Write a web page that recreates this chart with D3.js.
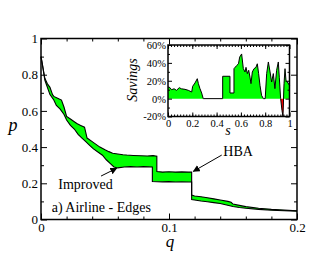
<!DOCTYPE html>
<html>
<head>
<meta charset="utf-8">
<script src="https://cdn.jsdelivr.net/npm/d3@7"></script>
<style>
  body { margin: 0; background: #fff; }
</style>
</head>
<body>
<div id="viz"></div>
<script>
// main panel: HBA (upper curve) and Improved (lower curve), p vs q
var q_hba = [0, 0.001, 0.003, 0.005, 0.007, 0.009, 0.010, 0.013, 0.016, 0.018,
             0.020, 0.023, 0.026, 0.028, 0.031, 0.034, 0.036, 0.040, 0.043, 0.046,
             0.050, 0.053, 0.056, 0.060, 0.064, 0.067, 0.072, 0.078, 0.083, 0.0875,
             0.0905, 0.0905, 0.095, 0.100, 0.105, 0.110, 0.115, 0.1177, 0.1177, 0.120,
             0.125, 0.130, 0.135, 0.140, 0.146, 0.1485, 0.150, 0.155, 0.160, 0.170,
             0.180, 0.190, 0.200];
var p_hba = [0.90, 0.86, 0.78, 0.75, 0.73, 0.69, 0.68, 0.67, 0.66, 0.62,
             0.57, 0.555, 0.54, 0.53, 0.52, 0.51, 0.45, 0.43, 0.415, 0.40,
             0.385, 0.375, 0.366, 0.362, 0.358, 0.356, 0.354, 0.352, 0.351, 0.353,
             0.35, 0.265, 0.262, 0.264, 0.262, 0.263, 0.262, 0.262, 0.135, 0.13,
             0.126, 0.12, 0.114, 0.108, 0.100, 0.095, 0.085, 0.078, 0.071, 0.062,
             0.056, 0.052, 0.048];

var q_imp = [0, 0.001, 0.003, 0.004, 0.007, 0.010, 0.012, 0.015, 0.018, 0.020,
             0.023, 0.026, 0.029, 0.032, 0.035, 0.038, 0.041, 0.045, 0.048, 0.051,
             0.054, 0.057, 0.060, 0.065, 0.070, 0.075, 0.080, 0.087, 0.087, 0.095,
             0.100, 0.105, 0.110, 0.115, 0.1177, 0.1177, 0.120, 0.125, 0.130, 0.135,
             0.140, 0.145, 0.150, 0.155, 0.160, 0.170, 0.180, 0.190, 0.200];
var p_imp = [0.90, 0.86, 0.77, 0.75, 0.69, 0.66, 0.63, 0.61, 0.58, 0.55,
             0.52, 0.50, 0.47, 0.45, 0.43, 0.41, 0.39, 0.37, 0.355, 0.33,
             0.31, 0.29, 0.285, 0.29, 0.292, 0.29, 0.292, 0.29, 0.21, 0.208,
             0.209, 0.207, 0.208, 0.207, 0.207, 0.11, 0.108, 0.102, 0.098, 0.093,
             0.088, 0.08, 0.072, 0.066, 0.062, 0.056, 0.051, 0.048, 0.046];

// inset: savings (%) vs s
var s_ins = [0, 0.01, 0.03, 0.05, 0.07, 0.093, 0.11, 0.14, 0.167, 0.195,
             0.203, 0.222, 0.241, 0.25, 0.263, 0.277, 0.29, 0.45, 0.45, 0.51,
             0.51, 0.543, 0.543, 0.565, 0.58, 0.59, 0.606, 0.62, 0.634, 0.642,
             0.653, 0.664, 0.675, 0.683, 0.694, 0.708, 0.724, 0.735, 0.746, 0.757,
             0.77, 0.785, 0.8, 0.812, 0.826, 0.84, 0.853, 0.867, 0.88, 0.894,
             0.908, 0.916, 0.927, 0.938, 0.946, 0.955, 0.963, 0.971, 0.982, 1.0];
var sav_ins = [13, 13, 10, 11, 9.3, 12.3, 11, 10.4, 9.3, 7.4,
               13.8, 17.5, 22.3, 16.8, 11.2, 6.3, 0, 0, 25, 25,
               6.3, 6.3, 33.5, 37, 39, 46.5, 50, 33.5, 29.8, 35,
               28, 31.7, 24, 16.8, 29.8, 33.5, 35, 39, 28, 14.9,
               3.7, 0, 0, 28, 41, 29.8, 18.6, 28, 11.2, 31.7,
               41, 24, 0, -13, -20, 16.8, 33.5, 20.5, 18.6, 14.9];

var qTicks = [0, 0.1, 0.2],
    pTicks = [0, 0.2, 0.4, 0.6, 0.8, 1],
    sTicks = [0, 0.2, 0.4, 0.6, 0.8, 1],
    savTicks = [-20, 0, 20, 40, 60];

var W = 335, H = 259,
    serif = "'Liberation Serif'",
    green = "#00ff00",
    red = "#ff0000";

var svg = d3.select("#viz").append("svg")
    .attr("width", W)
    .attr("height", H);

/***************** scales *********************/
var x = d3.scaleLinear().domain([0, 0.2]).range([41, 297]);
var y = d3.scaleLinear().domain([0, 1]).range([219.5, 38.5]);

var ix = d3.scaleLinear().domain([0, 1]).range([168, 289.5]);
var iy = d3.scaleLinear().domain([-20, 60]).range([116.5, 45]);

// draws inward ticks on all four sides plus the frame
function frame(g, xs, ys, o) {
  var xr = xs.range(), yr = ys.range();
  var sides = [
    { axis: d3.axisBottom, sc: xs, tr: "translate(0," + yr[0] + ")", major: o.xMajor, minor: o.xMinor, fmt: o.xFmt, pad: o.xPad },
    { axis: d3.axisTop, sc: xs, tr: "translate(0," + yr[1] + ")", major: o.xMajor, minor: o.xMinor, fmt: null },
    { axis: d3.axisLeft, sc: ys, tr: "translate(" + xr[0] + ",0)", major: o.yMajor, minor: o.yMinor, fmt: o.yFmt, pad: o.yPad },
    { axis: d3.axisRight, sc: ys, tr: "translate(" + xr[1] + ",0)", major: o.yMajor, minor: o.yMinor, fmt: null }
  ];
  sides.forEach(function(sd) {
    var a = g.append("g").attr("transform", sd.tr)
        .call(sd.axis(sd.sc).tickValues(sd.minor).tickSize(-o.minorLen).tickFormat(""));
    a.select(".domain").remove();
    var b = g.append("g").attr("transform", sd.tr)
        .call(sd.axis(sd.sc).tickValues(sd.major).tickSize(-o.majorLen)
              .tickPadding(sd.pad || 0)
              .tickFormat(sd.fmt ? sd.fmt : ""));
    b.select(".domain").remove();
    b.selectAll(".tick text").style("font-size", o.fontSize + "px");
  });
  g.selectAll(".tick line").attr("stroke", "#000").attr("stroke-width", 1);
  g.selectAll(".tick text").attr("fill", "#000");
  g.append("rect")
      .attr("x", xr[0]).attr("y", yr[1])
      .attr("width", xr[1] - xr[0]).attr("height", yr[0] - yr[1])
      .attr("fill", "none").attr("stroke", "#000").attr("stroke-width", 1.5);
}

/***************** main panel *********************/
var main = svg.append("g").attr("class", "main");

var hba = q_hba.map(function(q, i) { return [q, p_hba[i]]; });
var imp = q_imp.map(function(q, i) { return [q, p_imp[i]]; });

var line = d3.line()
    .x(function(d) { return x(d[0]); })
    .y(function(d) { return y(d[1]); });

main.append("path")
    .attr("d", line(hba.concat(imp.slice().reverse())) + "Z")
    .attr("fill", green)
    .attr("stroke", "none");

[hba, imp].forEach(function(c) {
  main.append("path")
      .attr("d", line(c))
      .attr("fill", "none")
      .attr("stroke", "#000")
      .attr("stroke-width", 1.1);
});

var fmt = function(d) { return d3.format("~g")(d); };

frame(main, x, y, {
  xMajor: qTicks, xMinor: d3.range(0.02, 0.2, 0.02),
  yMajor: pTicks, yMinor: d3.range(0.1, 1, 0.2),
  xFmt: fmt, yFmt: fmt, xPad: 3, yPad: 3,
  majorLen: 6, minorLen: 3, fontSize: 13
});

main.append("text")
    .attr("x", 170).attr("y", 247)
    .attr("text-anchor", "middle")
    .style("font-style", "italic").style("font-size", "17px")
    .text("q");

main.append("text")
    .attr("x", 13).attr("y", 131)
    .attr("text-anchor", "middle")
    .style("font-style", "italic").style("font-size", "18px")
    .text("p");

// annotations
var defs = svg.append("defs");
defs.append("marker")
    .attr("id", "arr")
    .attr("viewBox", "0 0 10 10")
    .attr("refX", 9).attr("refY", 5)
    .attr("markerWidth", 7).attr("markerHeight", 7)
    .attr("markerUnits", "userSpaceOnUse")
    .attr("orient", "auto")
  .append("path")
    .attr("d", "M0,0L10,5L0,10Z")
    .attr("fill", "#000");

var notes = [
  { text: "Improved", tx: 0.0135, ty: 0.168, from: [0.0469, 0.240], to: [0.0591, 0.283] },
  { text: "HBA", tx: 0.1424, ty: 0.351, from: [0.1412, 0.356], to: [0.119, 0.266] }
];
notes.forEach(function(n) {
  main.append("text")
      .attr("x", x(n.tx)).attr("y", y(n.ty))
      .style("font-size", "14px")
      .text(n.text);
  main.append("line")
      .attr("x1", x(n.from[0])).attr("y1", y(n.from[1]))
      .attr("x2", x(n.to[0])).attr("y2", y(n.to[1]))
      .attr("stroke", "#000").attr("stroke-width", 1)
      .attr("marker-end", "url(#arr)");
});

main.append("text")
    .attr("x", x(0.0084)).attr("y", y(0.041))
    .style("font-size", "14px")
    .text("a) Airline - Edges");

/***************** inset *********************/
var inset = svg.append("g").attr("class", "inset");
var ins = s_ins.map(function(s, i) { return [s, sav_ins[i]]; });

inset.append("rect")
    .attr("x", ix(0)).attr("y", iy(60))
    .attr("width", ix(1) - ix(0)).attr("height", iy(-20) - iy(60))
    .attr("fill", "#fff");

inset.append("path")
    .attr("d", d3.area()
        .x(function(d) { return ix(d[0]); })
        .y0(iy(0))
        .y1(function(d) { return iy(Math.max(d[1], 0)); })(ins))
    .attr("fill", green);

inset.append("path")
    .attr("d", d3.area()
        .x(function(d) { return ix(d[0]); })
        .y0(iy(0))
        .y1(function(d) { return iy(Math.min(d[1], 0)); })(ins))
    .attr("fill", red);

inset.append("path")
    .attr("d", d3.line()
        .x(function(d) { return ix(d[0]); })
        .y(function(d) { return iy(d[1]); })(ins))
    .attr("fill", "none")
    .attr("stroke", "#000")
    .attr("stroke-width", 1);

frame(inset, ix, iy, {
  xMajor: sTicks, xMinor: d3.range(0.025, 1, 0.025),
  yMajor: savTicks, yMinor: [-10, 10, 30, 50],
  xFmt: fmt, yFmt: function(d) { return d + "%"; }, xPad: 3, yPad: 2,
  majorLen: 4, minorLen: 2, fontSize: 10.5
});

inset.append("text")
    .attr("x", 228).attr("y", 135)
    .attr("text-anchor", "middle")
    .style("font-style", "italic").style("font-size", "14px")
    .text("s");

inset.append("text")
    .attr("transform", "translate(137,80) rotate(-90)")
    .attr("text-anchor", "middle")
    .style("font-style", "italic").style("font-size", "14px")
    .text("Savings");

// every text in the serif face
svg.selectAll("text").style("font-family", serif);
</script>
</body>
</html>
